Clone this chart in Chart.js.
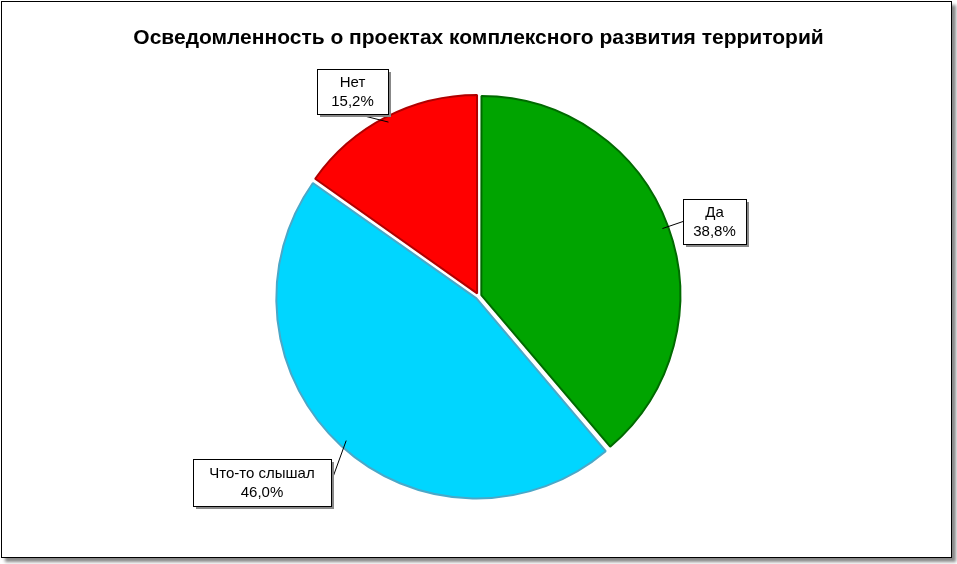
<!DOCTYPE html>
<html><head><meta charset="utf-8">
<script src="https://cdn.jsdelivr.net/npm/chart.js@4"></script>
<style>
body{margin:0;background:#fff}
#wrap{position:absolute;left:1px;top:1px;width:949px;height:555px;border:1px solid #000;box-shadow:4px 4px 3px #888;background:#fff}
</style></head><body>
<div id="wrap"><canvas id="c" width="949" height="555"></canvas></div>
<script>
const categories = ["Да", "Что-то слышал", "Нет"];
const values = [38.8, 46.0, 15.2];
const valueLabels = ["38,8%", "46,0%", "15,2%"];
const colors = ["#00A400", "#00D6FF", "#FF0000"];
const borders = ["#006A00", "#4AA8C8", "#B00000"];
const title = "Осведомленность о проектах комплексного развития территорий";

const boxes = [
  {x:681,y:197,w:63,h:45,edge:'left'},
  {x:191,y:457,w:138,h:47,edge:'right'},
  {x:315,y:67,w:71,h:45,edge:'bottom'}
];
const labelPlugin = {
  id:'lbl',
  afterDatasetsDraw(chart){
    const ctx = chart.ctx;
    const meta = chart.getDatasetMeta(0);
    ctx.save();
    ctx.font = '15px Arial';
    ctx.textAlign='center'; ctx.textBaseline='middle';
    meta.data.forEach((arc,i)=>{
      const b = boxes[i];
      const mid = (arc.startAngle+arc.endAngle)/2;
      const ax = arc.x + Math.cos(mid)*arc.outerRadius*0.99;
      const ay = arc.y + Math.sin(mid)*arc.outerRadius*0.99;
      let lx, ly;
      if(b.edge==='left'){lx=b.x; ly=b.y+b.h/2;}
      else if(b.edge==='right'){lx=b.x+b.w; ly=b.y+b.h/2;}
      else {lx=b.x+b.w/2+4; ly=b.y+b.h;}
      ctx.strokeStyle='#000'; ctx.lineWidth=1;
      ctx.beginPath(); ctx.moveTo(ax,ay); ctx.lineTo(lx,ly); ctx.stroke();
      ctx.fillStyle='#888';
      ctx.fillRect(b.x+3,b.y+3,b.w,b.h);
      ctx.fillStyle='#fff';
      ctx.fillRect(b.x,b.y,b.w,b.h);
      ctx.strokeRect(b.x+0.5,b.y+0.5,b.w,b.h);
      ctx.fillStyle='#000';
      ctx.fillText(categories[i], b.x+b.w/2, b.y+b.h/2-9);
      ctx.fillText(valueLabels[i], b.x+b.w/2, b.y+b.h/2+10);
    });
    ctx.restore();
  }
};
new Chart(document.getElementById('c'),{
  type:'pie',
  data:{labels:categories,datasets:[{data:values,backgroundColor:colors,borderColor:borders,borderWidth:2,offset:12}]},
  options:{
    responsive:false,animation:false,
    layout:{padding:{top:8,bottom:56,left:4,right:0}},
    plugins:{
      legend:{display:false},tooltip:{enabled:false},
      title:{display:true,text:title,color:'#000',font:{family:'Arial',size:21,weight:'bold'},padding:{top:16,bottom:40}}
    }
  },
  plugins:[labelPlugin]
});
</script></body></html>
